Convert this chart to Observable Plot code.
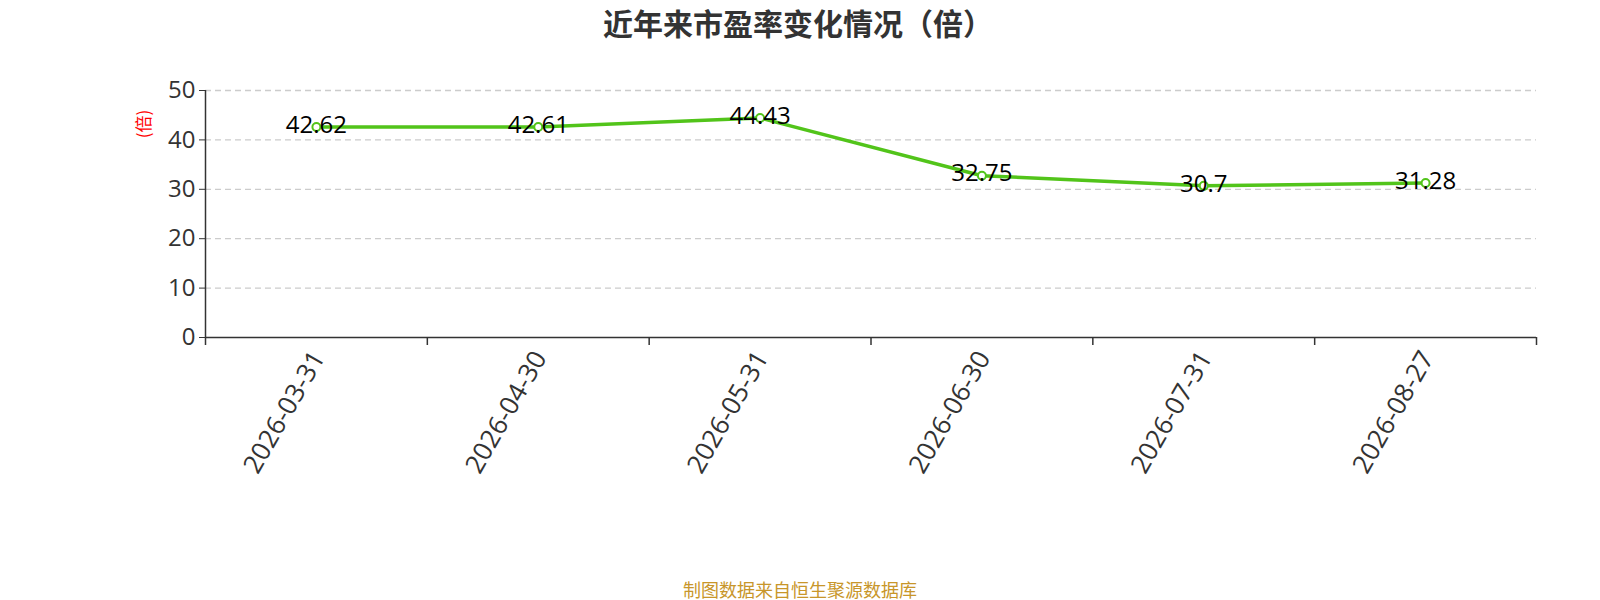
<!DOCTYPE html>
<html>
<head>
<meta charset="utf-8">
<script src="https://cdn.jsdelivr.net/npm/d3@7"></script>
<script src="https://cdn.jsdelivr.net/npm/@observablehq/plot@0.6"></script>
<style>
  html, body { margin: 0; padding: 0; background: #fff; }
  body { width: 1600px; height: 600px; overflow: hidden; position: relative;
         font-family: "Open Sans", "Noto Sans CJK SC", sans-serif; }
  #title { position: absolute; left: 0; top: 2px; width: 1596px; text-align: center;
           font-size: 30px; font-weight: bold; color: #333;
           font-family: "Noto Sans CJK SC", sans-serif; line-height: 40px; }
  #chart { position: absolute; left: 0; top: 48px; }
  #caption { position: absolute; left: 0; top: 577px; width: 1600px; text-align: center;
             font-size: 18px; color: #c8962a; font-family: "Noto Sans CJK SC", sans-serif; line-height: 24px; }
  #ylabel { position: absolute; left: 142px; top: 124px; transform: translate(-50%,-50%) rotate(-90deg);
            color: #ff0000; font-size: 17px; font-family: "Noto Sans CJK SC", sans-serif; white-space: nowrap; }
</style>
</head>
<body>
<div id="title">近年来市盈率变化情况（倍）</div>
<div id="chart"></div>
<div id="ylabel">(倍)</div>
<div id="caption">制图数据来自恒生聚源数据库</div>
<script>
const dates = ["2026-03-31", "2026-04-30", "2026-05-31", "2026-06-30", "2026-07-31", "2026-08-27"];
const peValues = [42.62, 42.61, 44.43, 32.75, 30.7, 31.28];
const labels = ["42.62", "42.61", "44.43", "32.75", "30.7", "31.28"];
const yTicks = [0, 10, 20, 30, 40, 50];

const data = dates.map((d, i) => ({date: d, idx: i + 0.5, value: peValues[i], label: labels[i]}));
const bounds = d3.range(dates.length + 1);
const green = "#52c41a";

const chart = Plot.plot({
  width: 1600,
  height: 500,
  marginLeft: 205,
  marginRight: 64,
  marginTop: 42,
  marginBottom: 211,
  style: {fontFamily: "'Open Sans', 'Noto Sans CJK SC', sans-serif", background: "transparent"},
  x: {type: "linear", domain: [0, dates.length], axis: null},
  y: {type: "linear", domain: [0, 50], axis: null},
  marks: [
    Plot.ruleY(yTicks.filter(t => t > 0), {stroke: "#cccccc", strokeWidth: 1.3, strokeDasharray: "6,4"}),
    Plot.axisY({ticks: yTicks, tickSize: 6, tickPadding: 4, fontSize: 24, color: "#333", label: null, tickFormat: d => String(d)}),
    Plot.ruleX([0], {stroke: "#333", strokeWidth: 1.5}),
    Plot.ruleY([0], {stroke: "#333", strokeWidth: 1.5}),
    Plot.axisX({ticks: bounds, tickSize: 8, tickFormat: () => "", stroke: "#333", strokeWidth: 1.5, label: null}),
    Plot.axisX({ticks: data.map(d => d.idx), tickSize: 0, tickPadding: 16, tickRotate: -60, fontSize: 26, color: "#333", dx: 2,
      tickFormat: (v) => dates[Math.round(v - 0.5)], label: null}),
    Plot.line(data, {x: "idx", y: "value", stroke: green, strokeWidth: 3.5}),
    Plot.dot(data, {x: "idx", y: "value", r: 4, fill: "#fff", stroke: green, strokeWidth: 2}),
    Plot.text(data, {x: "idx", y: "value", text: "label", fontSize: 24, fill: "#000", dy: -2})
  ]
});
document.getElementById("chart").appendChild(chart);
</script>
</body>
</html>
